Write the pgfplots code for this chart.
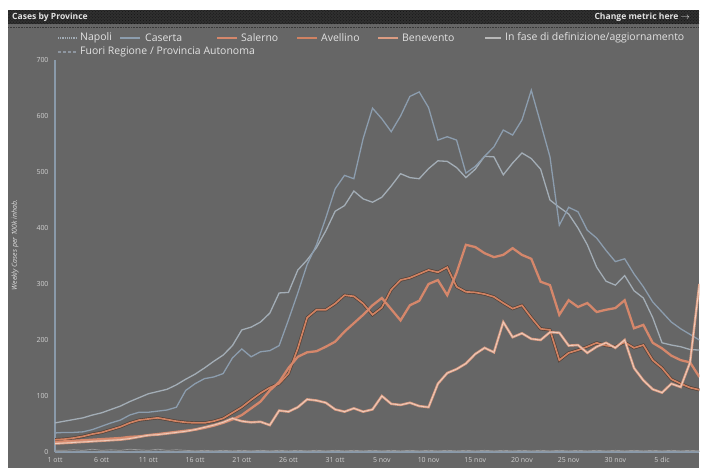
\documentclass[border=0pt]{standalone}
\usepackage{pgfplots}
\pgfplotsset{compat=1.18}
\usepackage{pgfplotstable}
\usepackage{fontspec}
\setmainfont{Open Sans}
\usetikzlibrary{patterns}
\definecolor{bg}{HTML}{666666}
\definecolor{bar}{HTML}{303030}
\definecolor{txt}{HTML}{E2E2E2}
\definecolor{tick}{HTML}{D0D0D0}
\definecolor{axcol}{HTML}{8A9AAA}
\definecolor{napcol}{HTML}{A3ADB6}
\definecolor{cascol}{HTML}{8C9DAE}
\definecolor{salcol}{HTML}{D5876B}
\definecolor{avecol}{HTML}{D08262}
\definecolor{avedark}{HTML}{4E3E36}
\definecolor{bencol}{HTML}{DB9C82}
\definecolor{bencore}{HTML}{F0CDBD}
\definecolor{infcol}{HTML}{9A9A9A}
\definecolor{fuocol}{HTML}{8E96A0}

\pgfplotstableread{
d nap cas sal ave ben inf fuo
0 52 34 18 22 15 3 1
1 55 35 19 23 16 3 1
2 58 35 20 25 17 4 1
3 61 36 21 28 18 3 2
4 66 40 22 32 19 5 1
5 70 46 23 35 20 3 1
6 76 52 24 40 21 4 2
7 82 57 25 45 22 3 1
8 90 66 27 52 24 5 1
9 97 71 28 57 27 4 2
10 104 71 30 59 30 3 1
11 108 73 32 61 31 5 2
12 112 75 34 58 33 3 1
13 120 80 36 55 35 4 1
14 130 110 38 53 37 3 2
15 139 122 40 52 40 2 1
16 150 131 43 52 44 3 1
17 162 134 47 55 48 2 1
18 173 140 52 60 53 3 2
19 190 168 58 70 60 2 1
20 218 184 66 80 55 3 1
21 223 170 78 93 53 2 1
22 232 179 90 105 54 3 2
23 248 181 110 115 48 2 1
24 284 190 125 122 74 3 1
25 285 236 150 140 72 2 1
26 325 284 170 185 80 3 2
27 343 335 178 240 94 2 1
28 365 370 180 254 92 3 1
29 395 418 188 254 88 2 1
30 430 470 197 265 76 3 2
31 440 494 215 280 72 2 1
32 466 488 230 278 78 3 1
33 452 560 245 265 72 2 1
34 446 614 262 245 76 3 2
35 455 595 275 258 100 2 1
36 475 572 255 290 86 3 1
37 497 600 235 307 84 2 1
38 490 635 262 311 88 3 2
39 488 643 270 318 82 2 1
40 506 615 300 325 80 3 1
41 520 557 307 321 122 2 1
42 519 563 280 330 141 3 2
43 508 557 320 295 148 2 1
44 490 498 370 286 158 3 1
45 505 510 366 285 175 2 1
46 528 528 355 282 186 3 2
47 527 545 348 277 178 2 1
48 495 575 352 266 232 3 1
49 516 566 364 256 205 2 1
50 534 593 352 262 212 3 2
51 524 646 345 240 202 2 1
52 505 587 304 220 200 3 1
53 450 527 298 218 214 2 1
54 437 405 245 164 213 3 2
55 425 437 271 177 190 2 1
56 400 429 259 182 191 3 1
57 370 396 266 188 177 2 1
58 330 382 250 195 188 3 2
59 305 360 254 190 195 2 1
60 298 340 257 188 186 3 1
61 315 345 271 196 200 2 1
62 288 318 221 186 150 3 2
63 275 295 227 191 128 2 1
64 240 268 195 164 112 3 1
65 195 250 185 150 106 2 1
66 191 232 172 130 122 3 2
67 188 220 164 122 116 2 1
68 183 210 160 115 160 3 1
69 182 200 134 111 300 2 1
}\data

\begin{document}
\begin{tikzpicture}
% frame and panel
\fill[white] (0bp,0bp) rectangle (701bp,-472bp);
\fill[bg] (8bp,-10bp) rectangle (699bp,-468bp);
\fill[bar] (8bp,-10bp) rectangle (699bp,-24bp);
\fill[pattern=crosshatch dots, pattern color=black!60!bar] (8bp,-10bp) rectangle (699bp,-24bp);
\draw[black!45!bg, densely dotted, line width=0.6bp] (8bp,-27bp) -- (699bp,-27bp);
\node[anchor=west, text=txt, font=\bfseries\fontsize{8.6}{9}\selectfont, inner sep=0pt] at (12bp,-17bp) {Cases by Province};
\node[anchor=east, text=txt, font=\bfseries\fontsize{8.6}{9}\selectfont, inner sep=0pt] at (690bp,-17bp) {Change metric here $\rightarrow$};

% legend
\begin{scope}[every node/.style={anchor=west, text=txt, inner sep=0pt, font=\fontsize{10.5}{11}\selectfont}]
\draw[napcol, densely dotted, line width=1.2bp] (58bp,-38bp) -- (76bp,-38bp);
\node at (80bp,-38bp) {Napoli};
\draw[cascol, line width=1.3bp] (120bp,-38bp) -- (140bp,-38bp);
\node at (145bp,-38bp) {Caserta};
\draw[salcol, line width=2.2bp] (217bp,-38bp) -- (237bp,-38bp);
\node at (241bp,-38bp) {Salerno};
\draw[avedark, line width=2.8bp] (297bp,-38bp) -- (317bp,-38bp);
\draw[avecol, line width=1.6bp] (297bp,-38bp) -- (317bp,-38bp);
\node at (321bp,-38bp) {Avellino};
\draw[bencol, line width=2.2bp] (378bp,-38bp) -- (398bp,-38bp);
\node at (402bp,-38bp) {Benevento};
\draw[infcol!70!white, line width=1.2bp] (485bp,-38bp) -- (501bp,-38bp);
\node at (505bp,-38bp) {In fase di definizione/aggiornamento};
\draw[fuocol, densely dashed, line width=1.1bp] (58bp,-52bp) -- (76bp,-52bp);
\node at (80bp,-52bp) {Fuori Regione / Provincia Autonoma};
\end{scope}

\begin{axis}[
  at={(55bp,-452bp)}, anchor=south west,
  scale only axis, width=644.4bp, height=392bp,
  xmin=0, xmax=69, ymin=0, ymax=700,
  axis lines*=left,
  axis line style={draw=axcol, line width=1.4bp},
  xtick={0,5,...,65},
  xticklabels={1 ott,6 ott,11 ott,16 ott,21 ott,26 ott,31 ott,5 nov,10 nov,15 nov,20 nov,25 nov,30 nov,5 dic},
  ytick={0,100,...,700},
  major tick length=0pt,
  tick label style={text=tick, font=\fontsize{7}{8}\selectfont},
  /pgf/number format/assume math mode=true,
  xticklabel style={yshift=-2bp},
  yticklabel style={xshift=-3bp},
  ylabel={Weekly Cases per 100k inhab.},
  ylabel style={text=txt, font=\itshape\fontsize{7}{8}\selectfont, at={(axis description cs:-0.062,0.528)}, anchor=center},
  clip=true,
]
\addplot[fuocol, line width=0.7bp, densely dashed, no marks] table[x=d,y=fuo] {\data};
\addplot[infcol, line width=0.7bp, no marks] table[x=d,y=inf] {\data};
\addplot[napcol, line width=1.3bp, no marks] table[x=d,y=nap] {\data};
\addplot[cascol, line width=1.3bp, no marks] table[x=d,y=cas] {\data};
\addplot[avedark, line width=3bp, no marks] table[x=d,y=ave] {\data};
\addplot[avecol, line width=1.7bp, no marks] table[x=d,y=ave] {\data};
\addplot[salcol, line width=2.3bp, no marks] table[x=d,y=sal] {\data};
\addplot[bencol, line width=2.4bp, no marks] table[x=d,y=ben] {\data};
\addplot[bencore, line width=0.8bp, no marks] table[x=d,y=ben] {\data};
\end{axis}
\end{tikzpicture}
\end{document}
